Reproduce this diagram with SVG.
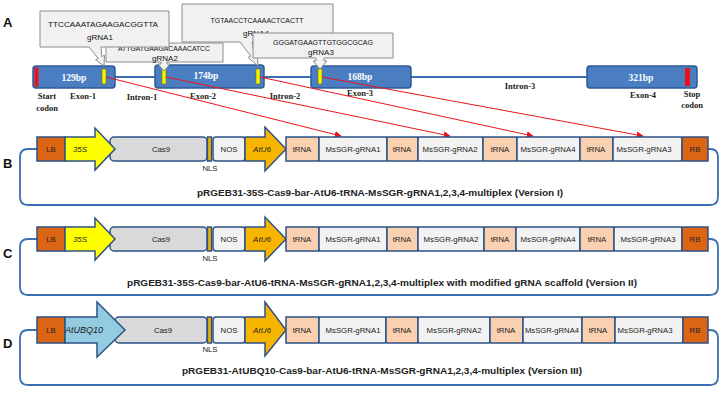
<svg xmlns="http://www.w3.org/2000/svg" width="723" height="400" viewBox="0 0 723 400">
<defs>
<marker id="ra" viewBox="0 0 10 10" refX="9" refY="5" markerWidth="7" markerHeight="7" orient="auto" markerUnits="userSpaceOnUse"><path d="M0,0 L10,5 L0,10 Z" fill="#e8141b"/></marker>
<style>
.pl{font-family:"Liberation Sans",Arial,sans-serif;font-weight:bold;font-size:13px;fill:#111}
.exon{fill:#4a7ec0;stroke:#2c5b98;stroke-width:1.5}
.intr{stroke:#3b6fb2;stroke-width:2.2;fill:none}
.bar{fill:#f5f500;stroke:#6b6b20;stroke-width:0.6}
.red{fill:#e8141b}
.bp{font-family:"Liberation Serif","Times New Roman",serif;font-weight:bold;font-size:9.5px;fill:#fff;text-anchor:middle}
.lab{font-family:"Liberation Serif","Times New Roman",serif;font-weight:bold;font-size:8.5px;fill:#222;text-anchor:middle}
.call{fill:#f1f1f1;stroke:#8c8c8c;stroke-width:1}
.seq{font-family:"Liberation Sans",Arial,sans-serif;font-size:7.5px;fill:#111;text-anchor:middle}
.gn{font-family:"Liberation Sans",Arial,sans-serif;font-size:8px;fill:#111;text-anchor:middle}
.rl{stroke:#e8141b;stroke-width:1;fill:none}
.bx{stroke:#2d5286;stroke-width:1.5}
.lb{fill:#dc6514}
.pro35{fill:#ffff00}
.u6{fill:#f8b500}
.ubq{fill:#93cbe0}
.cas{fill:#d9d9d9}
.nos{fill:#f2f2f2}
.nls{fill:#f8b500}
.trna{fill:#f9d0b0}
.ms{fill:#f2f2f2}
.loop{stroke:#3a6fb0;stroke-width:1.8;fill:none}
.t{font-family:"Liberation Sans",Arial,sans-serif;font-size:7.8px;fill:#222;text-anchor:middle}
.ti{font-family:"Liberation Sans",Arial,sans-serif;font-size:8px;font-style:italic;fill:#222;text-anchor:middle}
.title{font-family:"Liberation Sans",Arial,sans-serif;font-weight:bold;font-size:9.5px;fill:#222;text-anchor:middle}
</style>
</defs>
<rect width="723" height="400" fill="#fff"/>

<!-- Panel labels -->
<text class="pl" x="3" y="27">A</text>
<text class="pl" x="3" y="168">B</text>
<text class="pl" x="3" y="258">C</text>
<text class="pl" x="3" y="348">D</text>

<!-- Panel A: gene structure -->
<g id="gene">
<line class="intr" x1="115" y1="77" x2="156" y2="77"/>
<line class="intr" x1="263" y1="77" x2="312" y2="77"/>
<line class="intr" x1="411" y1="77" x2="588" y2="77"/>
</g>
<g id="exon1">
<rect class="exon" x="33" y="66" width="82" height="22" rx="3"/>
<rect class="red" x="34.5" y="67.5" width="4" height="19"/>
<rect class="bar" x="102" y="69" width="4" height="15"/>
<text class="bp" x="74" y="81">129bp</text>
<text class="lab" x="47" y="99">Start</text>
<text class="lab" x="47" y="111">codon</text>
<text class="lab" x="83" y="99">Exon-1</text>
</g>
<g id="intron1"><text class="lab" x="142" y="100">Intron-1</text></g>
<g id="exon2">
<rect class="exon" x="155" y="65" width="109" height="23" rx="3"/>
<rect class="bar" x="162" y="69" width="4" height="15"/>
<rect class="bar" x="256" y="69" width="4" height="15"/>
<text class="bp" x="206" y="79">174bp</text>
<text class="lab" x="203" y="99">Exon-2</text>
</g>
<g id="intron2"><text class="lab" x="285" y="99">Intron-2</text></g>
<g id="exon3">
<rect class="exon" x="311" y="66" width="100" height="22" rx="3"/>
<rect class="bar" x="318" y="69" width="4" height="15"/>
<text class="bp" x="360" y="80">168bp</text>
<text class="lab" x="360" y="96">Exon-3</text>
</g>
<g id="intron3"><text class="lab" x="520" y="89">Intron-3</text></g>
<g id="exon4">
<rect class="exon" x="587" y="66" width="110" height="22" rx="3"/>
<rect class="red" x="685" y="68" width="5" height="18"/>
<text class="bp" x="641" y="81">321bp</text>
<text class="lab" x="643" y="98">Exon-4</text>
<text class="lab" x="692" y="97">Stop</text>
<text class="lab" x="692" y="108">codon</text>
</g>

<!-- Callouts -->
<g id="gRNA2">
<path class="call" d="M106,43 H223 V62 H167 V64 H170 L164,71 L158,64 H161 V62 H106 Z"/>
<text class="seq" x="164" y="51" textLength="92" lengthAdjust="spacingAndGlyphs">ATTGATGAAGACAAACATCC</text>
<text class="gn" x="165" y="61">gRNA2</text>
</g>
<g id="gRNA1">
<path class="call" d="M40,11 H169 V47 H101 L101.8,56.6 L104.5,55.3 L104,66 L95.5,59.7 L98.2,58.4 L89,47 H40 Z"/>
<text class="seq" x="103" y="27" textLength="110" lengthAdjust="spacingAndGlyphs">TTCCAAATAGAAGACGGTTA</text>
<text class="gn" x="100" y="40">gRNA1</text>
</g>
<g id="gRNA4">
<path class="call" d="M182,4 H333 V42 H252 L254.4,54.3 L257.1,53 L258,66 L248.1,57.4 L250.8,56.1 L240,42 H182 Z"/>
<text class="seq" x="257" y="23" textLength="93" lengthAdjust="spacingAndGlyphs">TGTAACCTCAAAACTCACTT</text>
<text class="gn" x="256" y="36">gRNA4</text>
</g>
<g id="gRNA3">
<path class="call" d="M253,33 H393 V58 H324 V61 H327 L320,69 L313,61 H316 V58 H253 Z"/>
<text class="seq" x="323" y="45" textLength="100" lengthAdjust="spacingAndGlyphs">GGGATGAAGTTGTGGCGCAG</text>
<text class="gn" x="321" y="55">gRNA3</text>
</g>

<!-- Connectors -->
<g id="connectors">
<line class="rl" x1="106" y1="77" x2="341" y2="136" marker-end="url(#ra)"/>
<line class="rl" x1="166" y1="77" x2="450" y2="136" marker-end="url(#ra)"/>
<line class="rl" x1="260" y1="77" x2="533" y2="136" marker-end="url(#ra)"/>
<line class="rl" x1="322" y1="77" x2="643" y2="136" marker-end="url(#ra)"/>
</g>

<!-- Panel B -->
<g id="constructB">
<path class="loop" d="M37,149 H28 Q20,149 20,157 V197 Q20,205 28,205 H710 Q718,205 718,197 V157 Q718,149 710,149 H708"/>
<rect class="bx lb" x="37" y="137" width="28" height="24"/>
<rect class="bx cas" x="110" y="137" width="97" height="24" rx="4"/>
<polygon class="bx pro35" points="65,137 95,137 95,128 115,149 95,170 95,161 65,161"/>
<rect class="bx nls" x="207.5" y="137" width="4" height="24"/>
<rect class="bx nos" x="213" y="137" width="32" height="24" rx="3"/>
<polygon class="bx u6" points="245,137 265,137 265,127 286,149 265,171 265,161 245,161"/>
<rect class="bx trna" x="286" y="137" width="33" height="24"/>
<rect class="bx ms" x="319" y="137" width="68" height="24" rx="2"/>
<rect class="bx trna" x="387" y="137" width="31" height="24"/>
<rect class="bx ms" x="418" y="137" width="65" height="24" rx="2"/>
<rect class="bx trna" x="483" y="137" width="34" height="24"/>
<rect class="bx ms" x="517" y="137" width="63" height="24" rx="2"/>
<rect class="bx trna" x="580" y="137" width="33" height="24"/>
<rect class="bx ms" x="613" y="137" width="69" height="24" rx="2"/>
<rect class="bx lb" x="682" y="137" width="26" height="24"/>
<text class="t" x="51" y="152">LB</text>
<text class="ti" x="80" y="152">35S</text>
<text class="t" x="161" y="152">Cas9</text>
<text class="t" x="210" y="171">NLS</text>
<text class="t" x="229" y="152">NOS</text>
<text class="ti" x="262" y="152">AtU6</text>
<text class="t" x="302" y="152">tRNA</text>
<text class="t" x="353" y="152">MsSGR-gRNA1</text>
<text class="t" x="402" y="152">tRNA</text>
<text class="t" x="450" y="152">MsSGR-gRNA2</text>
<text class="t" x="500" y="152">tRNA</text>
<text class="t" x="548" y="152">MsSGR-gRNA4</text>
<text class="t" x="596" y="152">tRNA</text>
<text class="t" x="644" y="152">MsSGR-gRNA3</text>
<text class="t" x="695" y="152">RB</text>
<text class="title" x="380" y="195.5" textLength="366" lengthAdjust="spacingAndGlyphs">pRGEB31-35S-Cas9-bar-AtU6-tRNA-MsSGR-gRNA1,2,3,4-multiplex  (Version I)</text>
</g>

<!-- Panel C -->
<g id="constructC">
<path class="loop" d="M37,239 H28 Q20,239 20,247 V287 Q20,295 28,295 H710 Q718,295 718,287 V247 Q718,239 710,239 H708"/>
<rect class="bx lb" x="37" y="227" width="28" height="24"/>
<rect class="bx cas" x="110" y="227" width="97" height="24" rx="4"/>
<polygon class="bx pro35" points="65,227 95,227 95,218 115,239 95,260 95,251 65,251"/>
<rect class="bx nls" x="207.5" y="227" width="4" height="24"/>
<rect class="bx nos" x="213" y="227" width="32" height="24" rx="3"/>
<polygon class="bx u6" points="245,227 265,227 265,217 286,239 265,261 265,251 245,251"/>
<rect class="bx trna" x="286" y="227" width="33" height="24"/>
<rect class="bx ms" x="319" y="227" width="68" height="24" rx="2"/>
<rect class="bx trna" x="387" y="227" width="31" height="24"/>
<rect class="bx ms" x="418" y="227" width="66" height="24" rx="2"/>
<rect class="bx trna" x="484" y="227" width="32" height="24"/>
<rect class="bx ms" x="516" y="227" width="64" height="24" rx="2"/>
<rect class="bx trna" x="580" y="227" width="34" height="24"/>
<rect class="bx ms" x="614" y="227" width="68" height="24" rx="2"/>
<rect class="bx lb" x="682" y="227" width="26" height="24"/>
<text class="t" x="51" y="242">LB</text>
<text class="ti" x="80" y="242">35S</text>
<text class="t" x="161" y="242">Cas9</text>
<text class="t" x="210" y="261">NLS</text>
<text class="t" x="229" y="242">NOS</text>
<text class="ti" x="262" y="242">AtU6</text>
<text class="t" x="302" y="242">tRNA</text>
<text class="t" x="353" y="242">MsSGR-gRNA1</text>
<text class="t" x="402" y="242">tRNA</text>
<text class="t" x="451" y="242">MsSGR-gRNA2</text>
<text class="t" x="500" y="242">tRNA</text>
<text class="t" x="548" y="242">MsSGR-gRNA4</text>
<text class="t" x="597" y="242">tRNA</text>
<text class="t" x="648" y="242">MsSGR-gRNA3</text>
<text class="t" x="695" y="242">RB</text>
<text class="title" x="382" y="285.5" textLength="510" lengthAdjust="spacingAndGlyphs">pRGEB31-35S-Cas9-bar-AtU6-tRNA-MsSGR-gRNA1,2,3,4-multiplex  with modified gRNA scaffold (Version II)</text>
</g>

<!-- Panel D -->
<g id="constructD">
<path class="loop" d="M37,330 H28 Q20,330 20,338 V377 Q20,385 28,385 H710 Q718,385 718,377 V338 Q718,330 710,330 H708"/>
<rect class="bx lb" x="37" y="317" width="28" height="26"/>
<rect class="bx cas" x="115" y="317" width="92" height="26" rx="4"/>
<polygon class="bx ubq" points="65,317 97,317 97,302 125,330 97,357 97,343 65,343"/>
<rect class="bx nls" x="207.5" y="317" width="4" height="26"/>
<rect class="bx nos" x="213" y="317" width="32" height="26" rx="3"/>
<polygon class="bx u6" points="245,317 265,317 265,302 286,330 265,356 265,343 245,343"/>
<rect class="bx trna" x="286" y="317" width="33" height="26"/>
<rect class="bx ms" x="319" y="317" width="67" height="26" rx="2"/>
<rect class="bx trna" x="386" y="317" width="32" height="26"/>
<rect class="bx ms" x="418" y="317" width="72" height="26" rx="2"/>
<rect class="bx trna" x="490" y="317" width="33" height="26"/>
<rect class="bx ms" x="523" y="317" width="59" height="26" rx="2"/>
<rect class="bx trna" x="582" y="317" width="33" height="26"/>
<rect class="bx ms" x="615" y="317" width="68" height="26" rx="2"/>
<rect class="bx lb" x="683" y="317" width="25" height="26"/>
<text class="t" x="51" y="333">LB</text>
<text class="ti" x="84" y="333" style="font-size:9px">AtUBQ10</text>
<text class="t" x="163" y="333">Cas9</text>
<text class="t" x="210" y="352">NLS</text>
<text class="t" x="229" y="333">NOS</text>
<text class="ti" x="262" y="333">AtU6</text>
<text class="t" x="302" y="333">tRNA</text>
<text class="t" x="353" y="333">MsSGR-gRNA1</text>
<text class="t" x="402" y="333">tRNA</text>
<text class="t" x="454" y="333">MsSGR-gRNA2</text>
<text class="t" x="506" y="333">tRNA</text>
<text class="t" x="552" y="333" textLength="54" lengthAdjust="spacingAndGlyphs">MsSGR-gRNA4</text>
<text class="t" x="598" y="333">tRNA</text>
<text class="t" x="645" y="333">MsSGR-gRNA3</text>
<text class="t" x="695" y="333">RB</text>
<text class="title" x="382" y="374" textLength="400" lengthAdjust="spacingAndGlyphs">pRGEB31-AtUBQ10-Cas9-bar-AtU6-tRNA-MsSGR-gRNA1,2,3,4-multiplex  (Version III)</text>
</g>
</svg>
